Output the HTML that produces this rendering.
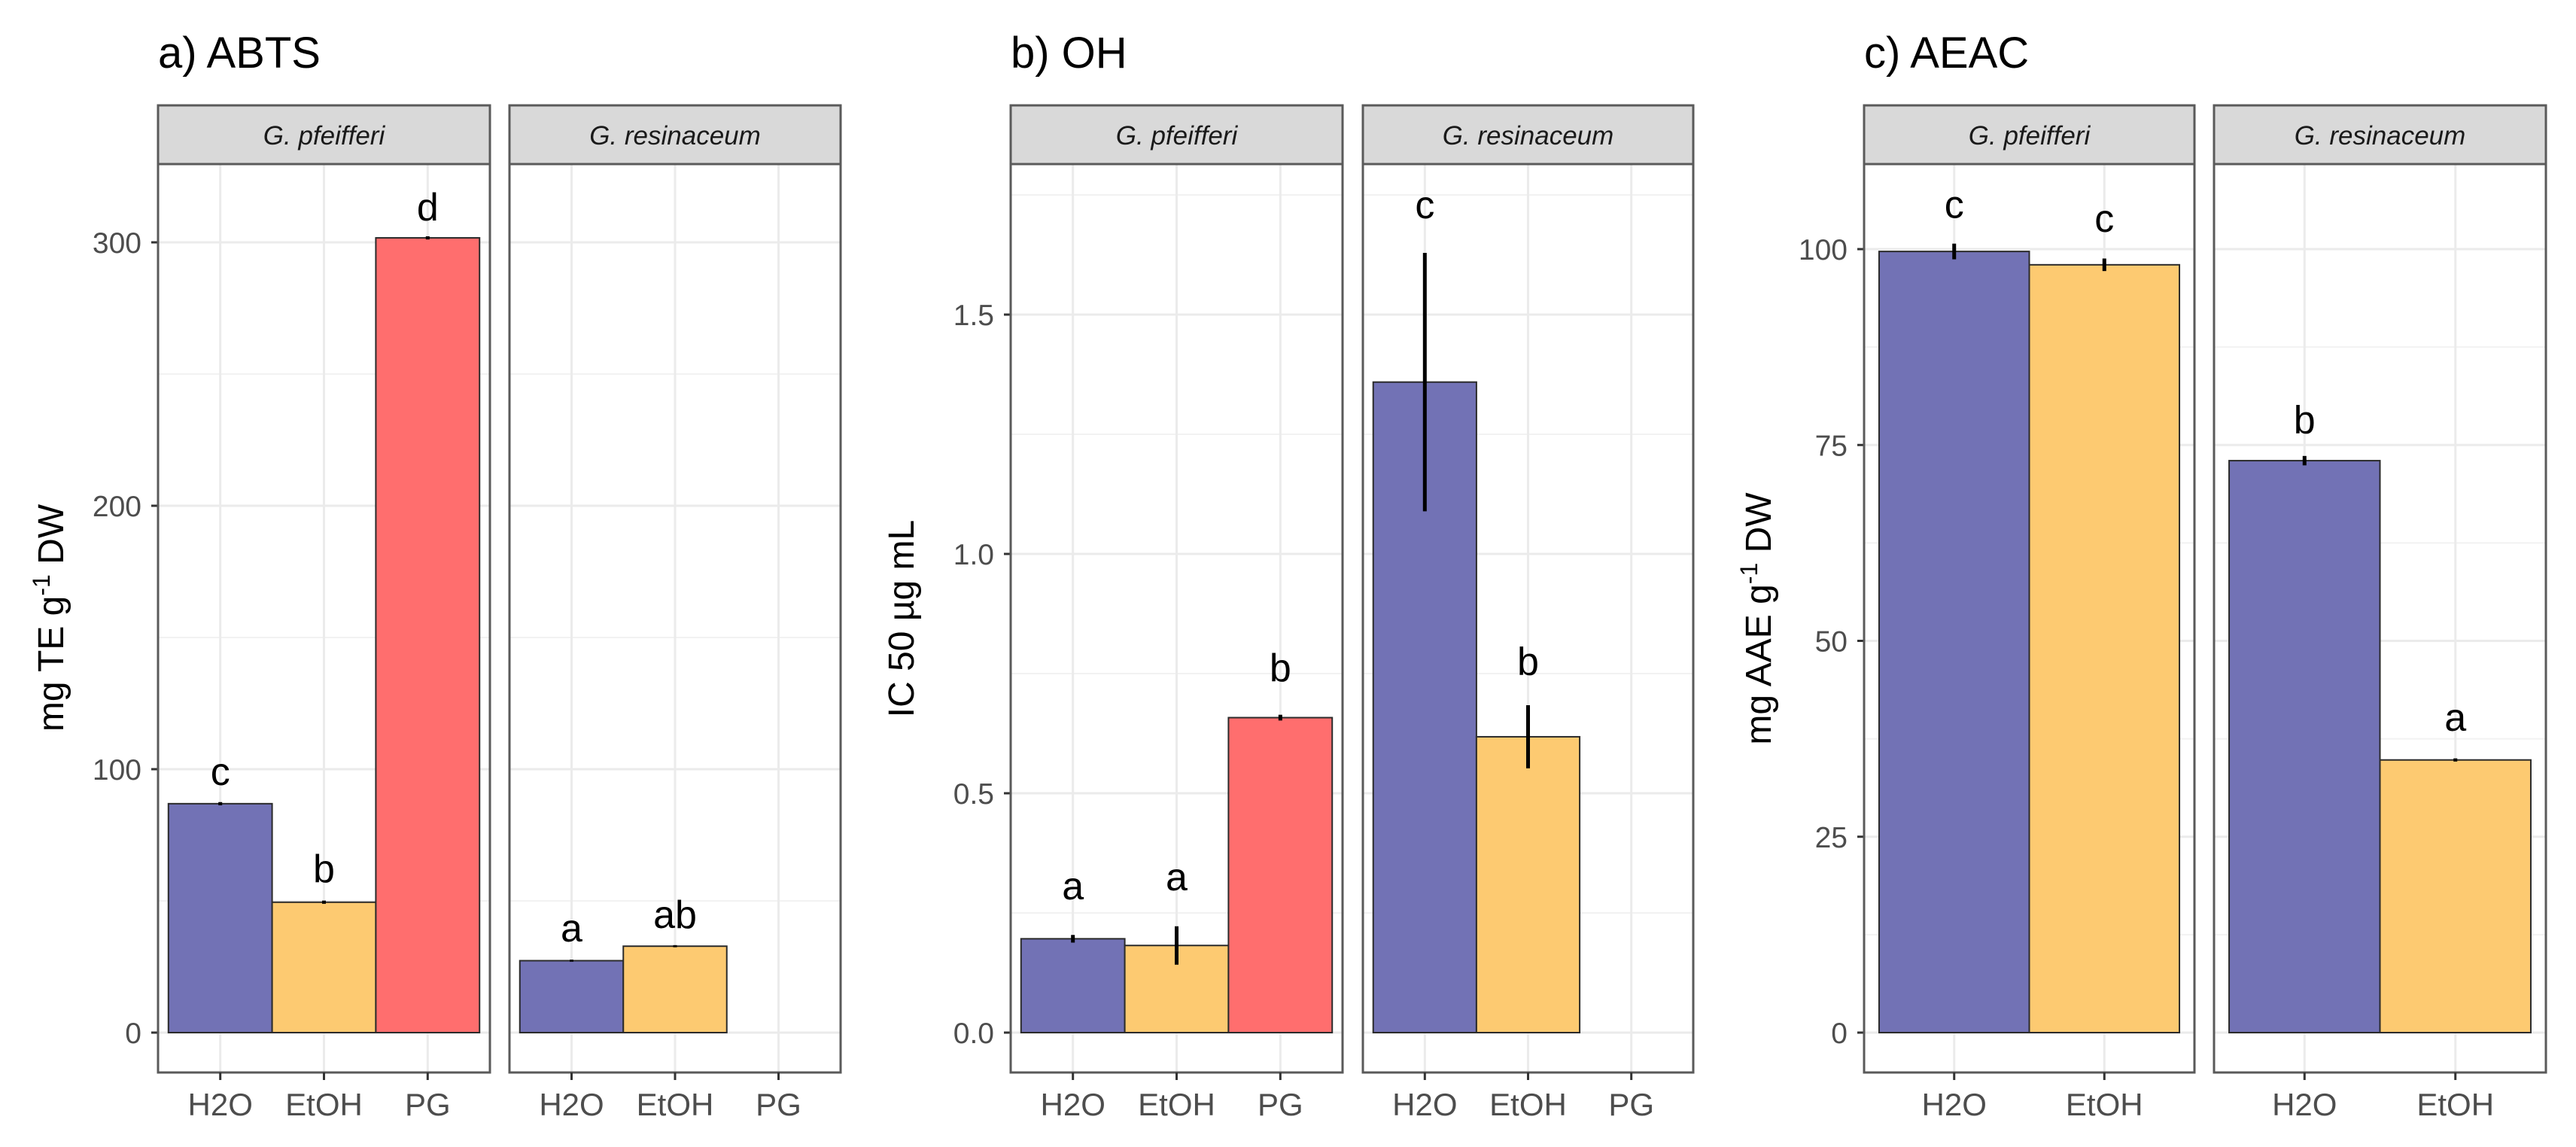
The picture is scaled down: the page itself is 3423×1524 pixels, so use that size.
<!DOCTYPE html>
<html><head><meta charset="utf-8"><style>
html,body{margin:0;padding:0;background:#fff;}
svg{display:block;font-family:"Liberation Sans",Arial,sans-serif;}
</style></head><body>
<svg id="chart" width="3423" height="1524" viewBox="0 0 3423 1524" xmlns="http://www.w3.org/2000/svg"></svg>
<script>
// ---- data ----
const species = ["G. pfeifferi", "G. resinaceum"];
const catsABTS = ["H2O", "EtOH", "PG"];
const catsOH = ["H2O", "EtOH", "PG"];
const catsAEAC = ["H2O", "EtOH"];
// ABTS (mg TE g-1 DW)
const abtsPf = [86.9, 49.5, 301.7];
const abtsRe = [27.3, 32.8];
const abtsPfErr = [0.6, 0.6, 0.6];
const abtsReErr = [0.4, 0.4];
const abtsPfLetters = ["c", "b", "d"];
const abtsReLetters = ["a", "ab"];
const abtsPfLetterY = [94, 57.1, 308.3];
const abtsReLetterY = [34.6, 39.7];
const abtsTicks = [0, 100, 200, 300];
const abtsTickLabels = ["0", "100", "200", "300"];
// OH (IC50)
const ohPf = [0.196, 0.182, 0.658];
const ohRe = [1.359, 0.618];
const ohPfErr = [0.008, 0.04, 0.006];
const ohReErr = [0.27, 0.066];
const ohPfLetters = ["a", "a", "b"];
const ohReLetters = ["c", "b"];
const ohPfLetterY = [0.278, 0.297, 0.734];
const ohReLetterY = [1.701, 0.748];
const ohTicks = [0, 0.5, 1.0, 1.5];
const ohTickLabels = ["0.0", "0.5", "1.0", "1.5"];
// AEAC
const aeacPf = [99.7, 98.0];
const aeacRe = [73.0, 34.8];
const aeacPfErr = [1.0, 0.8];
const aeacReErr = [0.6, 0.2];
const aeacPfLetters = ["c", "c"];
const aeacReLetters = ["b", "a"];
const aeacPfLetterY = [104.0, 102.2];
const aeacReLetterY = [76.5, 38.5];
const aeacTicks = [0, 25, 50, 75, 100];
const aeacTickLabels = ["0", "25", "50", "75", "100"];
const fillColors = {"H2O": "#7272b5", "EtOH": "#fdca71", "PG": "#ff6e6e"};

const NS = "http://www.w3.org/2000/svg";
const svg = document.getElementById("chart");
function mk(tag, attrs, parent) {
  const e = document.createElementNS(NS, tag);
  for (const k in attrs) e.setAttribute(k, attrs[k]);
  (parent || svg).appendChild(e);
  return e;
}
const PT = 218, PB = 1425, ST = 140;

function drawChart(cfg) {
  const g = mk("g", {});
  
  
  const y = v => cfg.y0 - (v - 0) * cfg.ppu;
  // title
  const t = mk("text", {x: cfg.panels[0][0], y: 90, "font-size": 58, fill: "#000"}, g);
  t.textContent = cfg.title;
  
  
  // y axis title
  const yt = mk("text", {x: 0, y: 0, "font-size": 48, fill: "#000", "text-anchor": "middle",
    transform: `translate(${cfg.ylabX},${cfg.ylabY}) rotate(-90)`}, g);
  yt.innerHTML = cfg.ylabel;
  
  
  // ticks labels
  const yMin = (cfg.y0 - PB) / cfg.ppu, yMax = (cfg.y0 - PT) / cfg.ppu;
  cfg.ticks.forEach((v, i) => {
    const l = mk("text", {x: cfg.panels[0][0] - 22, y: y(v) + 14, "font-size": 39, fill: "#4d4d4d", "text-anchor": "end"}, g);
    l.textContent = cfg.tickLabels[i];
    
    
    mk("line", {x1: cfg.panels[0][0] - 9, x2: cfg.panels[0][0], y1: y(v), y2: y(v), stroke: "#333", "stroke-width": 3}, g);
  });
  cfg.panels.forEach((p, pi) => {
    const [L, R] = p;
    const n = cfg.cats.length;
    const unit = (R - L) / (n + 0.2);
    const xc = i => L + (i + 0.6) * unit;
    const pg = mk("g", {}, g);
    
    
    // grid minor
    for (let k = 0; k < cfg.ticks.length + 1; k++) {
      const v = (k === cfg.ticks.length) ? cfg.ticks[k-1] + (cfg.ticks[1]-cfg.ticks[0])/2 : cfg.ticks[k] - (cfg.ticks[1]-cfg.ticks[0])/2;
      if (v > yMin && v < yMax) mk("line", {x1: L, x2: R, y1: y(v), y2: y(v), stroke: "#f2f2f2", "stroke-width": 2}, pg);
    }
    cfg.ticks.forEach(v => mk("line", {x1: L, x2: R, y1: y(v), y2: y(v), stroke: "#ebebeb", "stroke-width": 3}, pg));
    cfg.cats.forEach((c, i) => mk("line", {x1: xc(i), x2: xc(i), y1: PT, y2: PB, stroke: "#ebebeb", "stroke-width": 3}, pg));
    const vals = cfg.values[pi], errs = cfg.errs[pi];
    vals.forEach((v, i) => {
      const r = mk("rect", {x: xc(i) - unit / 2, y: y(v), width: unit, height: y(0) - y(v),
        fill: fillColors[cfg.cats[i]], stroke: "#2b2b2b", "stroke-width": 2}, pg);
      
      
      const e = mk("line", {x1: xc(i), x2: xc(i), y1: y(v - errs[i]), y2: y(v + errs[i]), stroke: "#000", "stroke-width": 5}, pg);
      
      
      const lt = mk("text", {x: xc(i), y: y(cfg.letterY[pi][i]), "font-size": 52, fill: "#000", "text-anchor": "middle"}, pg);
      lt.textContent = cfg.letters[pi][i];
      
      
    });
    // border
    mk("rect", {x: L, y: PT, width: R - L, height: PB - PT, fill: "none", stroke: "#5a5a5a", "stroke-width": 3}, pg);
    // strip
    const s = mk("rect", {x: L, y: ST, width: R - L, height: PT - ST, fill: "#d9d9d9", stroke: "#5a5a5a", "stroke-width": 3}, pg);
    
    
    const st = mk("text", {x: (L + R) / 2, y: 192, "font-size": 35, "font-style": "italic", fill: "#1a1a1a", "text-anchor": "middle"}, pg);
    st.textContent = species[pi];
    
    
    cfg.cats.forEach((c, i) => {
      mk("line", {x1: xc(i), x2: xc(i), y1: PB, y2: PB + 10, stroke: "#333", "stroke-width": 3}, pg);
      const xl = mk("text", {x: xc(i), y: 1482, "font-size": 42, fill: "#4d4d4d", "text-anchor": "middle"}, pg);
      xl.textContent = c;
      
      
    });
  });
}

drawChart({name: "abts-chart", title: "a) ABTS", panels: [[210, 651], [677, 1117]], cats: catsABTS,
  y0: 1372, ppu: 3.5, ticks: abtsTicks, tickLabels: abtsTickLabels,
  values: [abtsPf, abtsRe], errs: [abtsPfErr, abtsReErr], letters: [abtsPfLetters, abtsReLetters], letterY: [abtsPfLetterY, abtsReLetterY],
  ylabel: 'mg TE g<tspan dy="-18" font-size="32">-1</tspan><tspan dy="18"> DW</tspan>', ylabX: 84, ylabY: 821});
drawChart({name: "oh-chart", title: "b) OH", panels: [[1343, 1784], [1811, 2250]], cats: catsOH,
  y0: 1372, ppu: 636, ticks: ohTicks, tickLabels: ohTickLabels,
  values: [ohPf, ohRe], errs: [ohPfErr, ohReErr], letters: [ohPfLetters, ohReLetters], letterY: [ohPfLetterY, ohReLetterY],
  ylabel: 'IC 50 µg mL', ylabX: 1214, ylabY: 822});
drawChart({name: "aeac-chart", title: "c) AEAC", panels: [[2477, 2916], [2942, 3383]], cats: catsAEAC,
  y0: 1372, ppu: 10.41, ticks: aeacTicks, tickLabels: aeacTickLabels,
  values: [aeacPf, aeacRe], errs: [aeacPfErr, aeacReErr], letters: [aeacPfLetters, aeacReLetters], letterY: [aeacPfLetterY, aeacReLetterY],
  ylabel: 'mg AAE g<tspan dy="-18" font-size="32">-1</tspan><tspan dy="18"> DW</tspan>', ylabX: 2353, ylabY: 822});
</script>
</body></html>
